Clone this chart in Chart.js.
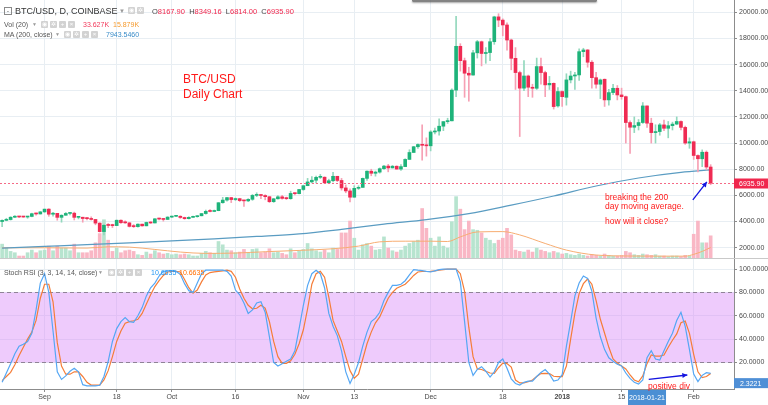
<!DOCTYPE html>
<html><head><meta charset="utf-8">
<script src="https://cdn.jsdelivr.net/npm/chart.js@4.4.1/dist/chart.umd.min.js"></script>
<style>
html,body{margin:0;padding:0;background:#fff;}
#wrap{position:relative;width:768px;height:405px;overflow:hidden;background:#fff;font-family:'Liberation Sans',Arial,sans-serif;}
canvas{position:absolute;left:0;}
#c1{top:0;}
#c2{top:258px;}
.t{position:absolute;white-space:nowrap;line-height:1;}
.ic{display:inline-block;width:7px;height:7px;background:#d2d2d2;border-radius:1px;margin-right:2px;vertical-align:top;color:#fff;font-size:6px;text-align:center;line-height:7px;}
.red{color:#ff1a1a;}
#shadow{position:absolute;left:412px;top:-1px;width:185px;height:3px;border-radius:2px;background:rgba(90,90,90,0.75);box-shadow:0 1px 2px rgba(0,0,0,0.35);}
</style></head><body>
<div id="wrap">
<canvas id="c1" width="768" height="258"></canvas>
<canvas id="c2" width="768" height="147"></canvas>
<div id="shadow"></div>

<div class="t" style="left:4px;top:7px;width:6px;height:6px;border:1px solid #8a8a8a;font-size:7px;line-height:6px;text-align:center;color:#555;">-</div>
<div class="t" style="left:15px;top:7px;font-size:9px;color:#333;">BTC/USD, D, COINBASE</div>
<div class="t" style="left:119px;top:8px;font-size:6px;color:#999;">▼</div>
<div class="t" style="left:128px;top:7px;"><span class="ic">◉</span><span class="ic">✲</span></div>
<div class="t" style="left:152px;top:7.5px;font-size:7.5px;color:#444;">O<span style="color:#f0284e">8167.90</span>&nbsp; H<span style="color:#f0284e">8349.16</span>&nbsp; L<span style="color:#f0284e">6814.00</span>&nbsp; C<span style="color:#f0284e">6935.90</span></div>

<div class="t" style="left:4px;top:20.5px;font-size:7px;color:#555;">Vol (20)</div>
<div class="t" style="left:32px;top:21.5px;font-size:5px;color:#999;">▼</div>
<div class="t" style="left:41px;top:20.5px;"><span class="ic">◉</span><span class="ic">✲</span><span class="ic">+</span><span class="ic">×</span></div>
<div class="t" style="left:83px;top:20.5px;font-size:7px;color:#f2385a;">33.627K</div>
<div class="t" style="left:113px;top:20.5px;font-size:7px;color:#f59a2e;">15.879K</div>

<div class="t" style="left:4px;top:31px;font-size:7px;color:#555;">MA (200, close)</div>
<div class="t" style="left:55px;top:32px;font-size:5px;color:#999;">▼</div>
<div class="t" style="left:64px;top:31px;"><span class="ic">◉</span><span class="ic">✲</span><span class="ic">+</span><span class="ic">×</span></div>
<div class="t" style="left:106px;top:31px;font-size:7px;color:#3a8cc8;">7943.5460</div>

<div class="t" style="left:4px;top:268.5px;font-size:7px;color:#555;">Stoch RSI (3, 3, 14, 14, close)</div>
<div class="t" style="left:98px;top:269.5px;font-size:5px;color:#999;">▼</div>
<div class="t" style="left:108px;top:268.5px;"><span class="ic">◉</span><span class="ic">✲</span><span class="ic">+</span><span class="ic">×</span></div>
<div class="t" style="left:151px;top:268.5px;font-size:7px;color:#2196f3;">10.6635</div>
<div class="t" style="left:179px;top:268.5px;font-size:7px;color:#ff6d00;">10.6635</div>

<div class="t red" style="left:183px;top:73px;font-size:12px;">BTC/USD</div>
<div class="t red" style="left:183px;top:88px;font-size:12px;">Daily Chart</div>
<div class="t red" style="left:605px;top:192.5px;font-size:8.5px;">breaking the 200</div>
<div class="t red" style="left:605px;top:201.5px;font-size:8.5px;">day moving average.</div>
<div class="t red" style="left:605px;top:217px;font-size:8.5px;">how will it close?</div>
<div class="t red" style="left:648px;top:382px;font-size:8.5px;">positive div</div>
</div>
<script>
// ---------- DATA ----------
const startDate = '2017-08-22';
const totalSlots = 173; // 168 daily candles + empty right margin
const categories = [];
(function(){ const d0 = Date.parse(startDate + 'T00:00:00Z'); for (let i = 0; i < totalSlots; i++) categories.push(new Date(d0 + i*86400000).toISOString().slice(0,10)); })();

const tickDates = ['2017-09-01','2017-09-18','2017-10-01','2017-10-16','2017-11-01','2017-11-13','2017-12-01','2017-12-18','2018-01-01','2018-01-15','2018-02-01'];
const tickTexts = ['Sep','18','Oct','16','Nov','13','Dec','18','2018','15','Feb'];
const priceTicks = [2000,4000,6000,8000,10000,12000,14000,16000,18000,20000];
const stochTicks = [20,40,60,80,100];

const open = [4000,4090,4150,4330,4370,4350,4345,4390,4600,4580, 4740,4950,4560,4630,4320,4480,4620,4640,4320,4330, 4230,4220,4160,3880,3230,3710,3700,3690,4100,3910,
 3900,3630,3610,3800,3670,3930,3890,4210,4190,4160, 4340,4400,4405,4310,4220,4320,4370,4440,4610,4780, 4770,4830,5440,5640,5830,5680,5750,5600,5580,5700,
 6000,6020,5990,5900,5520,5740,5890,5770,5750,6150, 6130,6450,6740,7030,7160,7380,7390,6960,7120,7460, 7140,6570,6340,5860,6540,6610,7300,7850,7690,7780,
 8040,8240,8100,8230,8010,8200,8750,9280,9720,9890, 9830,9790,10850,10920,11290,11640,11700,14050,17400,16300, 15340,15200,16900,17750,16850,16920,17750,19650,19400,19030,
 17880,16480,15390,14200,15130,14270,14190,15850,15390,14450, 14570,12840,13940,13500,14830,15130,15210,16990,17120,16180, 15000,14500,14880,13300,13860,14190,13680,13550,11570,11210,
 11340,11570,12840,11520,10800,10880,11390,11130,11330,11450, 11650,11200,10000,10100,9050,8800,9300,8167.90];
const high = [4140,4250,4370,4460,4380,4400,4400,4640,4640,4770, 4950,4980,4700,4630,4520,4690,4690,4720,4380,4330, 4330,4360,4160,3910,3790,3850,3800,4120,4130,4050,
 3920,3770,3820,3800,3960,3990,4230,4270,4220,4370, 4410,4470,4440,4340,4370,4420,4460,4620,4880,4920, 4880,5450,5850,5850,5850,5800,5780,5620,5750,6070,
 6200,6080,6050,5900,5760,5980,6000,5870,6320,6200, 6470,6760,7300,7440,7480,7600,7420,7240,7770,7460, 7300,6800,6500,6740,6740,7330,7870,8000,7860,8100,
 8300,8370,8290,8260,8350,8800,9490,9750,9950,11400, 10400,10950,11150,11850,11650,11900,14150,19700,17600,16500, 15800,17100,17850,17800,17300,18000,19700,19890,19500,19200,
 17950,17300,15500,16300,15200,14500,16500,16500,15500,15100, 14600,14250,14000,15300,15500,15400,17200,17250,17150,16300, 15400,14900,14900,14100,14500,14400,14200,13600,11700,12000,
 11800,13100,12850,11900,11400,11500,11750,11650,11600,12000, 11700,11300,10400,10150,9100,9480,9400,8349.16];
const low = [3600,4060,4110,4300,4290,4320,4250,4360,4490,4570, 4690,4400,4420,4100,3950,4480,4510,4120,4200,3950, 4120,4110,3750,3200,2970,3530,3540,3690,3850,3860,
 3580,3540,3570,3640,3670,3850,3890,4120,4030,4150, 4290,4380,4240,4170,4190,4310,4330,4430,4560,4730, 4750,4820,5400,5550,5450,5600,5530,5150,5520,5620,
 5900,5740,5660,5450,5460,5720,5720,5680,5700,6030, 6110,6380,6740,6960,6960,7290,6940,6940,7030,7050, 6400,6200,5500,5860,6450,6610,7140,7500,7470,7700,
 7990,7800,8090,8000,7900,8200,8750,9280,9600,8700, 9000,9400,10700,10600,10950,11500,11700,13550,15500,13500, 13200,15200,16500,15900,16100,16300,17550,18900,18200,17100,
 15600,14100,10500,14000,13550,13500,14100,14500,13550,14100, 12600,12750,12800,12900,14600,14100,14800,16600,15800,14200, 14200,13400,12800,12900,13700,13300,13350,10000,9200,10800,
 11000,11500,11200,10000,10000,10600,10950,10400,11000,11400, 11000,9900,9600,8750,7800,8200,7950,6814.00];
const close = [4090,4150,4330,4370,4350,4345,4390,4600,4580,4740, 4950,4560,4630,4320,4480,4620,4640,4320,4330,4230, 4220,4160,3880,3230,3710,3700,3690,4100,3910,3900,
 3630,3610,3800,3670,3930,3890,4210,4190,4160,4340, 4400,4405,4310,4220,4320,4370,4440,4610,4780,4770, 4830,5440,5640,5830,5680,5750,5600,5580,5700,6000,
 6020,5990,5900,5520,5740,5890,5770,5750,6150,6130, 6450,6740,7030,7160,7380,7390,6960,7120,7460,7140, 6570,6340,5860,6540,6610,7300,7850,7690,7780,8040,
 8240,8100,8230,8010,8200,8750,9280,9720,9890,9830, 9790,10850,10920,11290,11640,11700,14050,17400,16300,15340, 15200,16900,17750,16850,16920,17750,19650,19400,19030,17880,
 16480,15390,14200,15130,14270,14190,15850,15390,14450,14570, 12790,13940,13550,14830,15130,15210,16990,17120,16180,15000, 14500,14830,13300,13860,14190,13680,13550,11570,11210,11340,
 11570,12840,11520,10800,10880,11390,11130,11330,11450,11650, 11200,10000,10100,9050,8800,9300,8168,6935.90];
const volume = [21,15,10,8,3,3,8,12,8,11, 12,18,11,18,15,15,11,21,8,8, 8,11,23,37,58,27,10,15,8,11,
 12,10,5,4,9,6,11,8,6,7, 5,6,5,6,5,3,3,7,10,8, 7,25,20,12,11,8,9,13,8,13,
 14,8,9,14,8,9,7,5,14,8, 11,13,22,14,11,9,12,8,15,13, 38,38,56,30,12,20,22,18,12,13,
 32,15,11,9,12,18,22,25,27,75, 45,30,18,32,18,15,55,93,74,43, 56,43,42,38,30,27,22,27,30,45,
 35,12,10,9,12,9,15,12,10,8, 10,8,6,7,5,4,6,4,3,5, 4,3,6,4,3,3,4,10,8,5,
 4,6,5,4,5,3,3,2,3,3, 2,4,3,36,56,23,23,33.627];
const volMAIdx = [0,10,20,25,30,36,42,48,55,62,70,78,84,89,95,101,105,108,112,118,122,128,133,140,148,155,161,163,165,167];
const volMAVal = [15.5,15.5,15,17,16.5,13,9,7,7.5,9.5,11.5,14,18,24.5,25.5,25.5,25,32,39.5,40,35,22,12,4.5,3,2.8,2.8,5.5,10,15.879];
const ma200Idx = [0,10,20,30,40,50,60,70,80,90,100,110,120,130,140,150,160,167];
const ma200Val = [1970,2100,2230,2370,2520,2680,2860,3060,3400,3800,4150,4600,5250,5950,6720,7330,7760,7943.546];
const stochK = [3,11,19,27.5,34,35.6,38,45,65,88, 96,80,47,12,5.5,8.5,12.5,15,12,1, 0,0,0,0.5,8,21,38,49,55,58.5,
 55,54.4,60,67,77,84,88,94,98,98.5, 98.6,98,95.5,87.5,81.5,80,88,96,99,99, 99,99,99,98,94,82,78,71,62,65,
 71,72,63,42,20,17,19,21,23,30, 49,69,86,96,99,96,84,62,51,43, 30,12,2,10,20,34,46,55,58,63,
 73,80,86,86,87,90,95,99.5,99,98.6, 98,97.5,98.5,99.5,100,100,100,100,89,55, 20,9,14,16.4,12.5,7.5,12,20,23,15,
 6,2,0.7,3,4,4,8,11.5,14,10, 4,5,9.5,34,55,77,88,94,92,81, 58,42,31,24,21,18.5,17,11,6.4,3,
 1.5,5,24,30,23,22,30,38,45,56, 63,51,31,10,3.6,9,11.3,10.6635];
const stochD = [4.5,8,11.5,18,26,33,40,46,56,75, 87,87,72,37,17,10,10,12,12,8, 3,0.7,0.7,0.7,5,13,25,38,47,53.6,
 55,55.7,57,62,70,78,85,90,94.5,97.5, 98,98,97.5,91,84,79.3,82,89,95,97, 97.5,98,98.5,99,98,93,83,75,69,66,
 66.4,69,66.5,55,38,25,19.3,19.3,21.5,27, 36,48,66,87,96,98,93,76,56,47, 38,25,13,6.5,10,23,36,46,54,59,
 67,75,80,83.6,85.3,87,90.5,94.5,97.5,97.9, 97.9,98,98.4,99,99.5,100,100,100,96,81, 50,25,14.5,14,12.5,11,10.7,15.5,19.5,19,
 16,5,2.5,2.5,3.5,5,8,10.5,10.7,10.5, 8.2,7.9,7.9,17,40,62,79,87.5,91.5,87, 73,57,45,33,23,19.5,17,14.5,9.3,5,
 3.5,8.5,19,26.5,25.5,25.5,26.4,33,39,44.5, 54,55.5,45,27,12,7,8,10.6635];
const lastClose = 6935.90;
const stochLabelValue = 2.3221;
const crosshairDate = '2018-01-21';
const priceArrow = {from:[162.8, 5650], to:[166.1, 7030]};
const stochArrow = {from:[152.4, 5.6], to:[161.5, 9.3]};

// ---------- STYLE ----------
const FONT = "'Liberation Sans', Arial, sans-serif";
const GRID = '#e8eef3', AXIS = '#8c8c8c', TXT = '#4a4a4a';
const UP = '#1eb37a', DN = '#ef2b53', WUP = '#93d8bd', WDN = '#f6a0b4';
const VUP = '#b7e4cf', VDN = '#f9b7c5';
const PMIN = 1212, PMAX = 20940, VMAX = 391;
const SMIN = -2.7, SMAX = 108.6;

const tickIdx = tickDates.map(d => categories.indexOf(d));
const isUp = close.map((c,i) => c >= open[i]);
function sparse(idx, val){ const a = new Array(close.length).fill(null); idx.forEach((k,j)=>{a[k]=val[j];}); return a; }

function arrow(ctx,x1,y1,x2,y2,color){
  ctx.save(); ctx.strokeStyle=color; ctx.fillStyle=color; ctx.lineWidth=1.3;
  ctx.beginPath(); ctx.moveTo(x1,y1); ctx.lineTo(x2,y2); ctx.stroke();
  const a=Math.atan2(y2-y1,x2-x1), L=5, W=2.6;
  ctx.beginPath(); ctx.moveTo(x2,y2);
  ctx.lineTo(x2-L*Math.cos(a)+W*Math.sin(a), y2-L*Math.sin(a)-W*Math.cos(a));
  ctx.lineTo(x2-L*Math.cos(a)-W*Math.sin(a), y2-L*Math.sin(a)+W*Math.cos(a));
  ctx.closePath(); ctx.fill(); ctx.restore();
}
function fitRight(s){ s.width = 34; s.paddingTop = 0; s.paddingBottom = 0; }

const xGrid = c => tickIdx.includes(c.index) ? GRID : 'rgba(0,0,0,0)';

const mainPlugin = {
  id:'mainOverlay',
  afterDraw(chart){
    const {ctx, chartArea:a, scales:{x,y}} = chart;
    const py = Math.round(y.getPixelForValue(lastClose)) + 0.5;
    ctx.save();
    ctx.strokeStyle = '#f56a86'; ctx.lineWidth = 1; ctx.setLineDash([2,2]);
    ctx.beginPath(); ctx.moveTo(a.left, py); ctx.lineTo(a.right, py); ctx.stroke();
    ctx.setLineDash([]);
    ctx.fillStyle = '#f0284e'; ctx.fillRect(a.right, py-5, 768-a.right, 10);
    ctx.fillStyle = '#fff'; ctx.font = '7px ' + FONT; ctx.textBaseline = 'middle'; ctx.textAlign='left';
    ctx.fillText(lastClose.toFixed(2), a.right + 5, py + 0.5);
    arrow(ctx, x.getPixelForValue(priceArrow.from[0]), y.getPixelForValue(priceArrow.from[1]),
               x.getPixelForValue(priceArrow.to[0]), y.getPixelForValue(priceArrow.to[1]), '#1414e0');
    ctx.restore();
  }
};

new Chart(document.getElementById('c1'), {
  type:'bar',
  data:{ labels:categories, datasets:[
    {type:'bar', data:volume, yAxisID:'vol', backgroundColor:isUp.map(u=>u?VUP:VDN), barThickness:3, grouped:false, order:6},
    {type:'line', data:sparse(volMAIdx, volMAVal), yAxisID:'vol', borderColor:'#f7ad72', borderWidth:1, pointRadius:0, spanGaps:true, cubicInterpolationMode:'monotone', order:5},
    {type:'line', data:sparse(ma200Idx, ma200Val), yAxisID:'y', borderColor:'#5a9cc2', borderWidth:1.2, pointRadius:0, spanGaps:true, cubicInterpolationMode:'monotone', order:4},
    {type:'bar', data:high.map((h,i)=>[low[i],h]), yAxisID:'y', backgroundColor:isUp.map(u=>u?WUP:WDN), barThickness:1, grouped:false, order:3},
    {type:'bar', data:open.map((o,i)=>[o,close[i]]), yAxisID:'y', backgroundColor:isUp.map(u=>u?UP:DN), barThickness:3, grouped:false, minBarLength:1, order:2}
  ]},
  options:{
    responsive:false, animation:false, devicePixelRatio:1, events:[],
    layout:{padding:0},
    plugins:{legend:{display:false}, tooltip:{enabled:false}},
    scales:{
      x:{type:'category', offset:true, grid:{offset:false, drawTicks:false, color:xGrid}, ticks:{display:false, autoSkip:false}, border:{display:false}},
      y:{position:'right', min:PMIN, max:PMAX,
         afterBuildTicks:s=>{ s.ticks = priceTicks.map(v=>({value:v})); }, afterFit:fitRight,
         ticks:{callback:v=>Number(v).toFixed(2), font:{size:7, family:FONT}, color:TXT, padding:2},
         grid:{color:GRID, tickLength:3, tickColor:AXIS}, border:{color:AXIS}},
      vol:{display:false, min:0, max:VMAX}
    }
  },
  plugins:[mainPlugin]
});

const stochPlugin = {
  id:'stochOverlay',
  beforeDatasetsDraw(chart){
    const {ctx, chartArea:a, scales:{y}} = chart;
    const y80 = y.getPixelForValue(80), y20 = y.getPixelForValue(20);
    ctx.save();
    ctx.fillStyle = 'rgba(214,130,247,0.42)';
    ctx.fillRect(a.left, y80, a.right-a.left, y20-y80);
    ctx.strokeStyle = '#8f8396'; ctx.lineWidth = 1; ctx.setLineDash([4,3]);
    [y80,y20].forEach(v=>{ const p=Math.round(v)+0.5; ctx.beginPath(); ctx.moveTo(a.left,p); ctx.lineTo(a.right,p); ctx.stroke(); });
    ctx.restore();
  },
  afterDraw(chart){
    const {ctx, chartArea:a, scales:{x,y}} = chart;
    ctx.save();
    ctx.strokeStyle = '#c9c9c9'; ctx.lineWidth = 1;
    ctx.beginPath(); ctx.moveTo(0,0.5); ctx.lineTo(768,0.5); ctx.stroke();
    const ly = y.getPixelForValue(stochLabelValue);
    ctx.fillStyle = '#4f8fd6'; ctx.fillRect(a.right, ly-5, 768-a.right, 10);
    ctx.fillStyle = '#fff'; ctx.font = '7px ' + FONT; ctx.textBaseline='middle'; ctx.textAlign='left';
    ctx.fillText(stochLabelValue.toFixed(4), a.right + 6, ly + 0.5);
    arrow(ctx, x.getPixelForValue(stochArrow.from[0]), y.getPixelForValue(stochArrow.from[1]),
               x.getPixelForValue(stochArrow.to[0]), y.getPixelForValue(stochArrow.to[1]), '#1414e0');
    const cx = x.getPixelForValue(categories.indexOf(crosshairDate));
    ctx.fillStyle = '#4a8fd4'; ctx.fillRect(cx-19, a.bottom+1, 38, 15);
    ctx.fillStyle = '#fff'; ctx.textAlign='center';
    ctx.fillText(crosshairDate, cx, a.bottom + 9);
    ctx.restore();
  }
};

new Chart(document.getElementById('c2'), {
  type:'line',
  data:{ labels:categories, datasets:[
    {data:stochK, borderColor:'#55a7f4', borderWidth:1.2, pointRadius:0, tension:0, order:1},
    {data:stochD, borderColor:'#f57d38', borderWidth:1.2, pointRadius:0, tension:0, order:2}
  ]},
  options:{
    responsive:false, animation:false, devicePixelRatio:1, events:[],
    layout:{padding:{top:1}},
    plugins:{legend:{display:false}, tooltip:{enabled:false}},
    scales:{
      x:{type:'category', offset:true,
         grid:{offset:false, color:xGrid, tickLength:3, tickColor:c=>tickIdx.includes(c.index)?AXIS:'rgba(0,0,0,0)'},
         ticks:{autoSkip:false, maxRotation:0, minRotation:0, padding:1, color:TXT,
                font:c=>({size:7, family:FONT, weight:(c.tick && c.tick.label==='2018')?'bold':'normal'}),
                callback:(v,i)=>{ const k=tickIdx.indexOf(i); return k>=0?tickTexts[k]:''; }},
         border:{color:AXIS},
         afterFit:s=>{ s.height = 16; s.paddingLeft = 0; s.paddingRight = 0; }},
      y:{position:'right', min:SMIN, max:SMAX,
         afterBuildTicks:s=>{ s.ticks = stochTicks.map(v=>({value:v})); }, afterFit:fitRight,
         ticks:{callback:v=>Number(v).toFixed(4), font:{size:7, family:FONT}, color:TXT, padding:2},
         grid:{color:GRID, tickLength:3, tickColor:AXIS}, border:{color:AXIS}}
    }
  },
  plugins:[stochPlugin]
});
</script>
</body></html>
